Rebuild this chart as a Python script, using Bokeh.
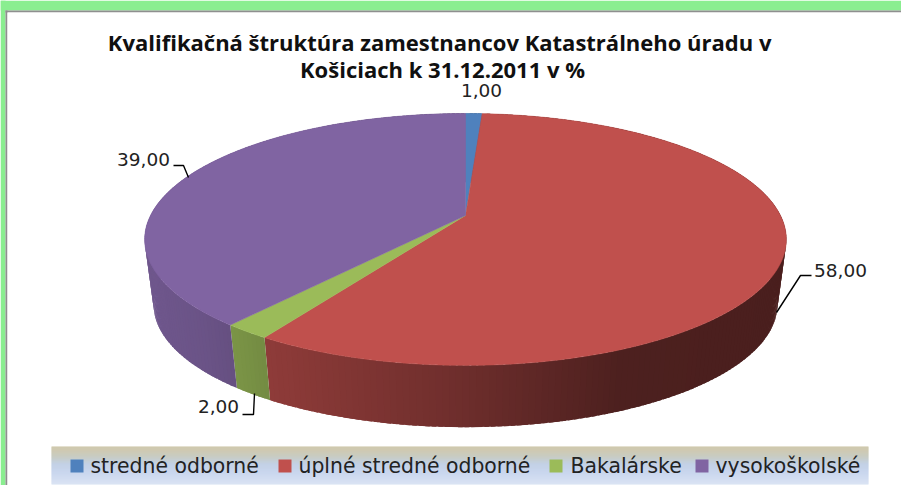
import math
from bokeh.plotting import figure
from bokeh.models import Range1d, ColumnDataSource
from bokeh.core.properties import value
from bokeh.embed import file_html
from bokeh.resources import INLINE

title_lines = ["Kvalifikačná štruktúra zamestnancov Katastrálneho úradu  v", "Košiciach k 31.12.2011 v %"]
categories = ["stredné odborné", "úplné stredné odborné", "Bakalárske", "vysokoškolské"]
values = [1.0, 58.0, 2.0, 39.0]
labels = ["1,00", "58,00", "2,00", "39,00"]
colors = ["#4F81BD", "#C0504D", "#9BBB59", "#8064A2"]

# projection of the tilted disc onto the page
CX, TOP_Y, BOT_Y, R, K, A, S = 465.0, 215.0, 281.0, 315.0, 121.4, 0.19, 0.972


def project(phi, base_y, scale):
    u, v = math.sin(phi), math.cos(phi)
    w = 1 + A * v
    return CX + scale * R * u / w, base_y - scale * K * v / w


def mix(c, f):
    r, g, b = int(c[1:3], 16), int(c[3:5], 16), int(c[5:7], 16)
    return "#%02x%02x%02x" % (round(r * f), round(g * f), round(b * f))


def shade(x):
    stops = [(140, .87), (200, .83), (232, .79), (265, .74), (450, .58), (620, .40), (790, .385)]
    for (x0, f0), (x1, f1) in zip(stops, stops[1:]):
        if x <= x1:
            return f0 + (f1 - f0) * (x - x0) / (x1 - x0)
    return stops[-1][1]


p = figure(width=901, height=485, output_backend="svg", toolbar_location=None,
           x_range=Range1d(0, 901), y_range=Range1d(485, 0), min_border=0,
           outline_line_color=None, background_fill_color="white", border_fill_color="white")
p.axis.visible = False
p.grid.visible = False

# frame
p.quad(left=[0, 0], right=[901, 5], top=[0, 0], bottom=[10, 485], color="#8AEE90", line_color=None)
p.quad(left=[5, 5], right=[901, 7], top=[10, 10], bottom=[12, 485], color="#8F8F8F", line_color=None)
p.quad(left=[7], right=[901], top=[12], bottom=[485], color="white", line_color=None)

# walls and top faces
angles = []
acc = 0.0
for val in values:
    angles.append((acc * 3.6, (acc + val) * 3.6))
    acc += val

wx, wy, wc = [], [], []
for (a0, a1), col in zip(angles, colors):
    n = max(1, int(math.ceil(a1 - a0)))
    for i in range(n):
        f0 = math.radians(a0 + (a1 - a0) * i / n)
        f1 = math.radians(min(a1, a0 + (a1 - a0) * (i + 1) / n + 0.7))
        t0, t1, b1, b0 = project(f0, TOP_Y, 1), project(f1, TOP_Y, 1), project(f1, BOT_Y, S), project(f0, BOT_Y, S)
        wx.append([t0[0], t1[0], b1[0], b0[0]])
        wy.append([t0[1], t1[1], b1[1], b0[1]])
        wc.append(mix(col, shade((t0[0] + t1[0]) / 2)))
p.patches("x", "y", source=ColumnDataSource(dict(x=wx, y=wy, c=wc)),
          fill_color="c", line_color=None)

tx, ty, tc = [], [], []
for (a0, a1), col in zip(angles, colors):
    n = max(2, int(math.ceil((a1 - a0) * 2)))
    pts = [project(math.radians(a0 + (a1 - a0) * i / n), TOP_Y, 1) for i in range(n + 1)]
    tx.append([CX] + [q[0] for q in pts])
    ty.append([TOP_Y] + [q[1] for q in pts])
    tc.append(col)
p.patches("x", "y", source=ColumnDataSource(dict(x=tx, y=ty, c=tc)),
          fill_color="c", line_color="c", line_width=0.5)

# leader lines
p.multi_line(xs=[[173, 183, 188], [811, 800, 776], [242, 253, 254]],
             ys=[[165, 165, 177], [275, 275, 312], [414, 414, 393]],
             line_color="black", line_width=1.4)

# data labels
p.text(x=[481, 840, 218, 143], y=[90, 270, 406, 159], text=labels,
       text_font=value("DejaVu Sans"), text_font_size="18.5px", text_color="#222222",
       text_align="center", text_baseline="middle")

# title
p.text(x=[442, 442], y=[41, 68], text=title_lines, text_font=value("Open Sans"),
       text_font_style="bold", text_font_size="22px", text_color="#101010",
       text_align="center", text_baseline="alphabetic")

# legend band
band = [(446, "#C9C2A2"), (450, "#C7C2A8"), (456, "#C0C5BB"), (463, "#BACAE2"), (472, "#C2D1EC"), (484, "#D6E0F2")]
for (y0, c0), (y1, c1) in zip(band, band[1:]):
    for yy in range(y0, y1):
        t = (yy - y0) / (y1 - y0)
        c = "#%02x%02x%02x" % tuple(round(int(c0[i:i+2], 16) * (1 - t) + int(c1[i:i+2], 16) * t) for i in (1, 3, 5))
        p.quad(left=[51], right=[868], top=[yy], bottom=[min(yy + 1.2, 484)], color=c, line_color=None)

swatch_x = [70, 278, 549, 695]
text_x = [90, 298, 570, 715]
p.quad(left=swatch_x, right=[x + 13 for x in swatch_x], top=[459] * 4, bottom=[472] * 4,
       fill_color=colors, line_color=None)
p.text(x=text_x, y=[465] * 4, text=categories, text_font=value("DejaVu Sans"),
       text_font_size="20.4px", text_color="#222222", text_align="left", text_baseline="alphabetic")

open("out.html", "w").write(file_html(p, INLINE))
